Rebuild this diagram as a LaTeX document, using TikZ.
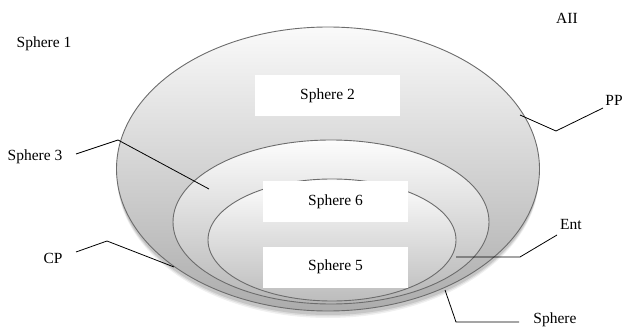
\documentclass[tikz,border=0pt]{standalone}
\usepackage{fontspec}
\setmainfont{Liberation Serif}
\usetikzlibrary{shapes.geometric}
\begin{document}
\begin{tikzpicture}[x=1pt,y=-1pt,
  lbl/.style={font=\fontsize{15.5}{17}\selectfont, inner sep=0pt},
  ring/.style={ellipse, draw=gray!85!black, line width=0.9pt, inner sep=0pt},
  wbox/.style={fill=white, minimum width=145pt, minimum height=41pt, inner sep=0pt, font=\fontsize{15.5}{17}\selectfont},
  lead/.style={black, line width=0.8pt}]
\useasboundingbox (0,0) rectangle (624,334);
% shadow
\foreach \d/\o in {6/0.12,4.5/0.18,3/0.25}{
  \fill[gray, opacity=\o] (328,{170+\d}) ellipse [x radius=211, y radius=142];
}
\node[ring, minimum width=423pt, minimum height=284pt, top color=gray!4, bottom color=gray!65] (outer) at (328,169) {};
\node[ring, minimum width=316pt, minimum height=164pt, top color=gray!2, bottom color=gray!58] (middle) at (331,222) {};
\node[ring, minimum width=248pt, minimum height=122pt, top color=gray!1, bottom color=gray!52] (inner) at (332,240) {};
\node[wbox] (s2) at (327.5,95.5) {Sphere 2};
\node[wbox] (s6) at (335.5,201.5) {Sphere 6};
\node[wbox] (s5) at (335.5,267) {Sphere 5};
\node[lbl] (s1) at (44,44) {Sphere 1};
\node[lbl] (all) at (567,18) {AII};
\node[lbl] (pp) at (614,100) {PP};
\node[lbl] (s3) at (35,157) {Sphere 3};
\node[lbl] (cp) at (53,258) {CP};
\node[lbl] (ent) at (571,225) {Ent};
\node[lbl] (sph) at (555,320) {Sphere};
\coordinate (ppend) at (520,115);
\coordinate (s3end) at (209,189);
\coordinate (cpend) at (174,267);
\coordinate (entend) at (456,257);
\coordinate (sphend) at (445,290);
\draw[lead] (603,108) -- (556,131) -- (ppend);
\draw[lead] (76,154) -- (118,140) -- (s3end);
\draw[lead] (76,252) -- (107,241) -- (cpend);
\draw[lead] (557,235) -- (520,257) -- (entend);
\draw[lead] (519,322) -- (456,322) -- (sphend);
\end{tikzpicture}
\end{document}
